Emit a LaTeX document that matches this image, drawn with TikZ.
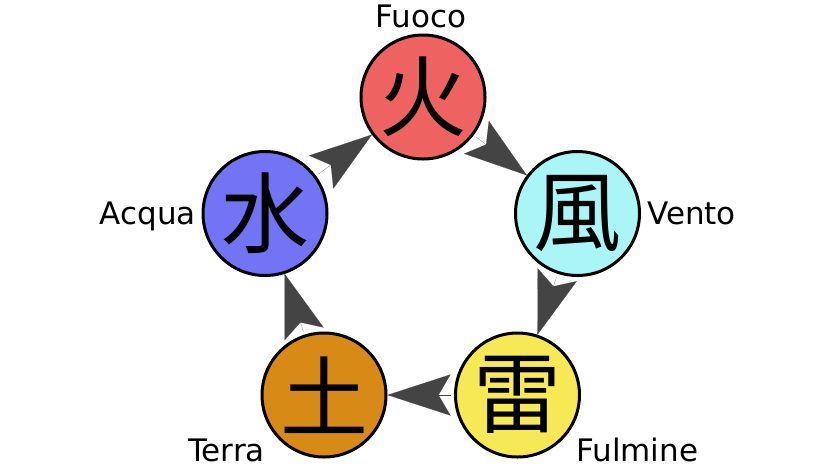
\documentclass[tikz,border=0pt]{standalone}
\usepackage{fontspec}
\setmainfont{DejaVu Sans}
\newfontfamily\cjk{Noto Sans CJK JP}
\usetikzlibrary{arrows.meta}
\definecolor{fuococol}{HTML}{EF6262}
\definecolor{ventocol}{HTML}{AAF5F5}
\definecolor{fulminecol}{HTML}{F7E855}
\definecolor{terracol}{HTML}{D88A16}
\definecolor{acquacol}{HTML}{7373F5}
\definecolor{arrowgray}{HTML}{444444}

\begin{document}
\begin{tikzpicture}[x=1pt,y=-1pt,
  elem/.style={circle,draw,line width=3pt,minimum size=124pt,inner sep=0pt,font=\cjk\fontsize{88}{88}\selectfont},
  lbl/.style={inner sep=0pt,text depth=0pt,font=\fontsize{31}{36}\selectfont},
  ciclo/.style={draw=arrowgray,line width=0.1pt,shorten <=3pt,-{Stealth[length=63pt,width=41pt,inset=12pt,fill=arrowgray]}}]
\useasboundingbox[fill=white] (0,0) rectangle (840,467);
% the five elements
\node[elem,fill=fuococol]   (fuoco)   at (423,97)    {火};
\node[elem,fill=ventocol]   (vento)   at (577.5,213.5) {風};
\node[elem,fill=fulminecol] (fulmine) at (517.5,395)  {雷};
\node[elem,fill=terracol]   (terra)   at (324,395)    {土};
\node[elem,fill=acquacol]   (acqua)   at (265,213.5)  {水};
% names
\node[lbl,anchor=base]      (tfuoco)   at (421,27)  {Fuoco};
\node[lbl,anchor=base west] (tvento)   at (647,224) {Vento};
\node[lbl,anchor=base west] (tfulmine) at (576,461) {Fulmine};
\node[lbl,anchor=base east] (tterra)   at (265,461) {Terra};
\node[lbl,anchor=base east] (tacqua)   at (196,224) {Acqua};
% cycle
\draw[ciclo] (fuoco) -- (vento);
\draw[ciclo] (vento) -- (fulmine);
\draw[ciclo] (fulmine) -- (terra);
\draw[ciclo] (terra) -- (acqua);
\draw[ciclo] (acqua) -- (fuoco);
\end{tikzpicture}
\end{document}
